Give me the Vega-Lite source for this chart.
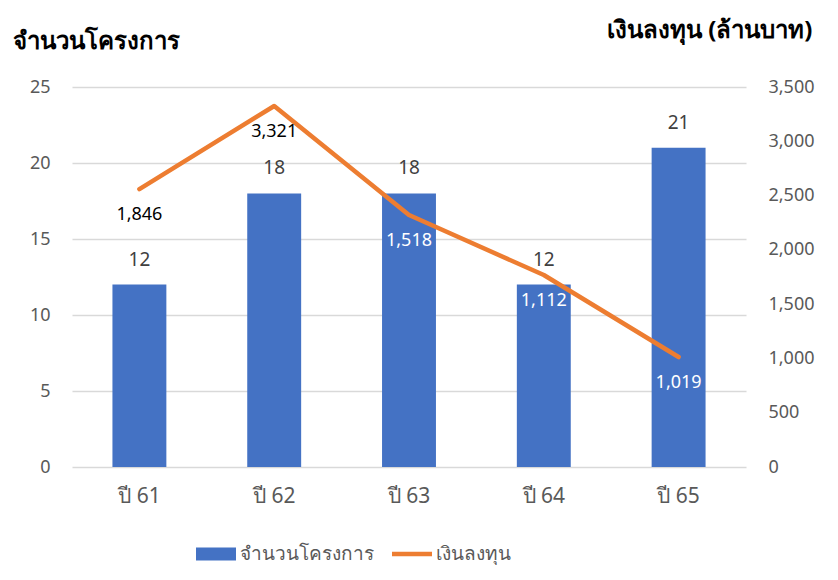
{
  "$schema": "https://vega.github.io/schema/vega-lite/v6.json",
  "width": 674,
  "height": 380,
  "autosize": {"type": "none"},
  "padding": {"left": 72, "top": 87, "right": 92, "bottom": 113},
  "background": "white",
  "config": {
    "font": "Noto Sans",
    "view": {"stroke": null},
    "axis": {"labelFont": "Noto Sans", "titleFont": "Noto Sans"},
    "legend": {"labelFont": "Noto Sans"}
  },
  "data": {
    "values": [
      {"year": "ปี 61", "projects": 12, "invest": 2560, "investLabel": "1,846"},
      {"year": "ปี 62", "projects": 18, "invest": 3325, "investLabel": "3,321"},
      {"year": "ปี 63", "projects": 18, "invest": 2321, "investLabel": "1,518"},
      {"year": "ปี 64", "projects": 12, "invest": 1768, "investLabel": "1,112"},
      {"year": "ปี 65", "projects": 21, "invest": 1013, "investLabel": "1,019"}
    ]
  },
  "encoding": {
    "x": {
      "field": "year",
      "type": "nominal",
      "sort": null,
      "scale": {"paddingInner": 0.6, "paddingOuter": 0.3},
      "axis": {
        "title": null,
        "labelAngle": 0,
        "labelFontSize": 21,
        "labelColor": "#595959",
        "labelPadding": 29,
        "labelBaseline": "middle",
        "domain": false,
        "ticks": false
      }
    }
  },
  "layer": [
    {
      "layer": [
        {
          "mark": {"type": "bar"},
          "encoding": {
            "y": {
              "field": "projects",
              "type": "quantitative",
              "scale": {"domain": [0, 25], "nice": false},
              "axis": {
                "values": [0, 5, 10, 15, 20, 25],
                "title": "จำนวนโครงการ",
                "titleAngle": 0,
                "titleX": -60,
                "titleY": -39,
                "titleAlign": "left",
                "titleBaseline": "alphabetic",
                "titleFontSize": 24,
                "titleFontWeight": "bold",
                "titleColor": "#000000",
                "labelFontSize": 18,
                "labelColor": "#595959",
                "labelPadding": 22,
                "domain": false,
                "ticks": false,
                "gridColor": "#D9D9D9",
                "gridWidth": 1.3
              }
            },
            "color": {
              "datum": "จำนวนโครงการ",
              "type": "nominal",
              "scale": {"domain": ["จำนวนโครงการ", "เงินลงทุน"], "range": ["#4472C4", "#ED7D31"]},
              "legend": {
                "title": null,
                "orient": "none",
                "direction": "horizontal",
                "legendX": 124,
                "legendY": 447,
                "labelFontSize": 19,
                "labelColor": "#595959",
                "labelOffset": 4,
                "columnPadding": 18,
                "symbolSize": 1600,
                "symbolStrokeWidth": 0,
                "encode": {
                  "symbols": {
                    "update": {
                      "shape": {"signal": "datum.value === 'เงินลงทุน' ? 'M-1,-0.11H1V0.11H-1Z' : 'M-1,-0.33H1V0.33H-1Z'"},
                      "fill": {"signal": "datum.value === 'เงินลงทุน' ? '#ED7D31' : '#4472C4'"},
                      "stroke": {"value": "transparent"}
                    }
                  }
                }
              }
            }
          }
        },
        {
          "mark": {"type": "text", "dy": -25, "baseline": "middle", "fontSize": 19, "color": "#404040"},
          "encoding": {
            "y": {"field": "projects", "type": "quantitative"},
            "text": {"field": "projects", "type": "quantitative"}
          }
        }
      ]
    },
    {
      "layer": [
        {
          "mark": {"type": "line", "strokeWidth": 4.5, "strokeCap": "round", "strokeJoin": "round"},
          "encoding": {
            "y": {
              "field": "invest",
              "type": "quantitative",
              "scale": {"domain": [0, 3500], "nice": false},
              "axis": {
                "orient": "right",
                "values": [0, 500, 1000, 1500, 2000, 2500, 3000, 3500],
                "format": ",d",
                "grid": false,
                "title": "เงินลงทุน (ล้านบาท)",
                "titleAngle": 0,
                "titleX": 66,
                "titleY": -50,
                "titleAlign": "right",
                "titleBaseline": "alphabetic",
                "titleFontSize": 24,
                "titleFontWeight": "bold",
                "titleColor": "#000000",
                "labelFontSize": 18,
                "labelColor": "#595959",
                "labelPadding": 22,
                "domain": false,
                "ticks": false
              }
            },
            "color": {"datum": "เงินลงทุน", "type": "nominal"}
          }
        },
        {
          "mark": {"type": "text", "dy": 26, "baseline": "middle", "fontSize": 18},
          "encoding": {
            "y": {"field": "invest", "type": "quantitative"},
            "text": {"field": "investLabel", "type": "nominal"},
            "color": {
              "condition": {"test": "datum.year === 'ปี 61' || datum.year === 'ปี 62'", "value": "#000000"},
              "value": "#FFFFFF"
            }
          }
        }
      ]
    }
  ],
  "resolve": {"scale": {"y": "independent"}}
}
